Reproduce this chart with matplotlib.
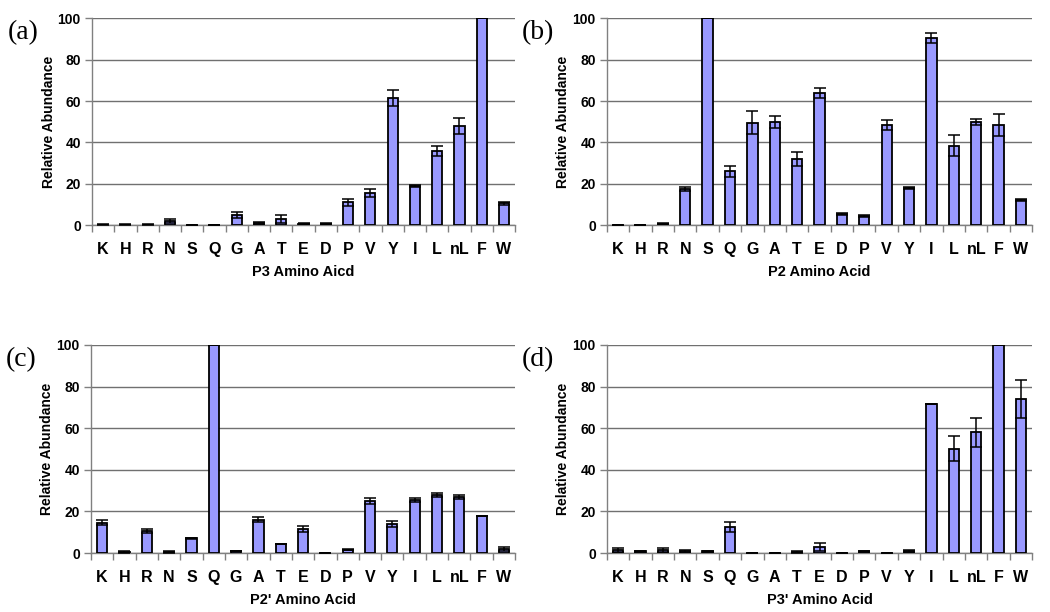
import numpy as np
import matplotlib
matplotlib.use("Agg")
import matplotlib.pyplot as plt

aa = ["K", "H", "R", "N", "S", "Q", "G", "A", "T", "E", "D", "P", "V", "Y", "I", "L", "nL", "F", "W"]

p3_vals = [0.3, 0.3, 0.3, 2, 0.2, 0.2, 5, 1, 3, 0.8, 0.7, 11, 15.5, 61.5, 19, 36, 48, 100, 10.5]
p3_err = [0.1, 0.1, 0.1, 1, 0.1, 0.1, 1.5, 0.5, 2, 0.3, 0.3, 1.5, 2, 4, 0.5, 2.5, 4, 0, 0.5]

p2_vals = [0.2, 0.2, 0.8, 17.5, 100, 26, 49.5, 50, 32, 64, 5.5, 4.5, 48.5, 18, 90.5, 38.5, 50, 48.5, 12]
p2_err = [0.1, 0.1, 0.2, 1, 0, 2.5, 5.5, 3, 3.5, 2.5, 0.5, 0.5, 2.5, 0.5, 2.5, 5, 1.5, 5.5, 0.5]

p2p_vals = [14.5, 0.5, 10.5, 0.5, 7, 100, 1, 16, 4.5, 11.5, 0.2, 1.5, 25, 14, 25.5, 28, 27, 18, 2]
p2p_err = [1.2, 0.3, 0.8, 0.3, 0.3, 0, 0.2, 1.2, 0, 1.5, 0, 0.2, 1.5, 1.5, 1, 1, 1, 0, 1]

p3p_vals = [1.5, 0.8, 1.5, 1, 0.8, 12.5, 0.2, 0.2, 0.5, 3, 0.2, 0.8, 0, 1, 71.5, 50, 58, 100, 74]
p3p_err = [0.8, 0.3, 0.8, 0.3, 0.3, 2.5, 0, 0, 0.3, 2, 0, 0.3, 0, 0.3, 0, 6, 7, 0, 9]

panels = [
    ("(a)", "P3 Amino Aicd", p3_vals, p3_err, [0.0876, 0.632, 0.403, 0.338]),
    ("(b)", "P2 Amino Acid", p2_vals, p2_err, [0.578, 0.632, 0.405, 0.338]),
    ("(c)", "P2' Amino Acid", p2p_vals, p2p_err, [0.0866, 0.0964, 0.404, 0.34]),
    ("(d)", "P3' Amino Acid", p3p_vals, p3p_err, [0.578, 0.0964, 0.405, 0.34]),
]

plt.rcParams['font.family'] = ['Liberation Sans', 'DejaVu Sans']
fig = plt.figure(figsize=(10.5, 6.12), dpi=100)

for tag, xlabel, vals, err, rect in panels:
    ax = fig.add_axes(rect)
    x = np.arange(len(aa))
    ax.bar(x, vals, width=0.46, color="#9999ff", edgecolor="black", linewidth=1.3, zorder=3)
    ax.errorbar(x, vals, yerr=err, fmt="none", ecolor="black", elinewidth=1.1,
                capsize=4.5, capthick=1.1, zorder=4)
    ax.set_xlim(-0.5, len(aa) - 0.5)
    ax.set_ylim(0, 100)
    ax.set_yticks([0, 20, 40, 60, 80, 100])
    ax.yaxis.grid(True, color="#707070", linewidth=1)
    ax.set_axisbelow(True)
    ax.set_xticks(x)
    ax.set_xticklabels(aa, fontsize=11.5, fontweight="bold")
    ax.set_xticks(np.arange(-0.5, len(aa)), minor=True)
    ax.tick_params(axis="x", which="major", length=0, pad=12)
    ax.tick_params(axis="x", which="minor", length=5, color="#808080", width=1)
    ax.tick_params(axis="y", length=5, color="#808080", width=1, labelsize=10, pad=3)
    for lab in ax.get_yticklabels():
        lab.set_fontweight("bold")
    for s in ["top", "right"]:
        ax.spines[s].set_visible(False)
    ax.spines["left"].set_color("#808080")
    ax.spines["bottom"].set_color("#808080")
    ax.spines["left"].set_linewidth(1)
    ax.spines["bottom"].set_linewidth(1)
    ax.set_ylabel("Relative Abundance", fontsize=10, fontweight="bold", labelpad=1.5)
    ax.set_xlabel(xlabel, fontsize=10.5, fontweight="bold", labelpad=6)
    ax.text(-0.2, 0.99, tag, transform=ax.transAxes, fontsize=20,
            family="Liberation Serif", va="top", ha="left")

fig.savefig("out.png", dpi=100)
